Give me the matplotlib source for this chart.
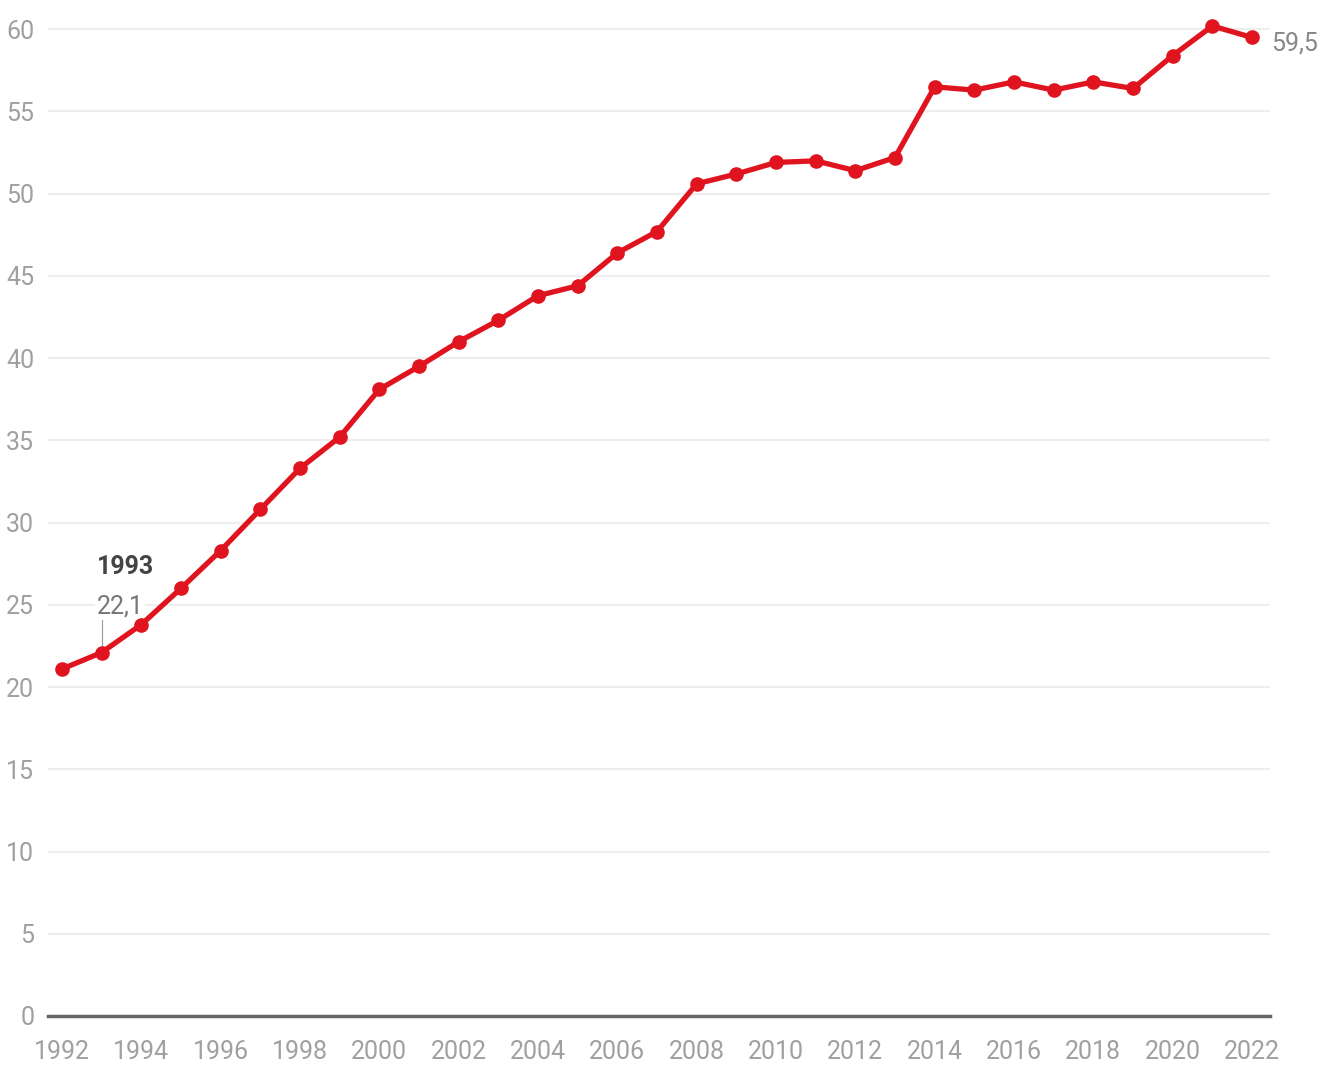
import numpy as np
import matplotlib
matplotlib.use("Agg")
import matplotlib.pyplot as plt

plt.rcParams['font.family'] = ['Liberation Sans Narrow', 'Roboto', 'DejaVu Sans']

# data
years = list(range(1992, 2023))
values = [21.1, 22.1, 23.8, 26.0, 28.3, 30.8, 33.3, 35.2, 38.1, 39.5,
          41.0, 42.3, 43.8, 44.4, 46.4, 47.7, 50.6, 51.2, 51.9, 52.0,
          51.4, 52.2, 56.5, 56.3, 56.8, 56.3, 56.8, 56.4, 58.4, 60.2, 59.5]
yticks = [0, 5, 10, 15, 20, 25, 30, 35, 40, 45, 50, 55, 60]
xticks = list(range(1992, 2023, 2))

red = '#e0141e'
fig = plt.figure(figsize=(13.31, 10.68), dpi=100)
ax = fig.add_axes([0.0361, 0.0487, 0.918, 0.9316])

ax.plot(years, values, color=red, linewidth=3.8, marker='o', markersize=9.5,
        markerfacecolor=red, markeredgecolor=red, zorder=3, clip_on=False)

ax.set_xlim(1991.65, 2022.45)
ax.set_ylim(0, 60.5)
ax.set_yticks(yticks)
ax.set_xticks(xticks)
ax.set_xticklabels([str(x) for x in xticks])
ax.tick_params(axis='y', length=0, pad=10, labelsize=18, labelcolor='#a0a0a0')
ax.tick_params(axis='x', length=0, pad=17, labelsize=18, labelcolor='#a0a0a0')

ax.grid(axis='y', color='#eeeeee', linewidth=1.6)
ax.set_axisbelow(True)
for s in ['top', 'right', 'left']:
    ax.spines[s].set_visible(False)
ax.spines['bottom'].set_color('#666666')
ax.spines['bottom'].set_linewidth(2.5)

# 1993 annotation
i93 = years.index(1993)
ax.plot([1993, 1993], [values[i93], 24.4], color='#999999', linewidth=0.8, zorder=2)
ax.text(1992.88, 24.9, '22,1', fontsize=18, color='#777777', va='center', ha='left',
        bbox=dict(facecolor='white', edgecolor='none', pad=1), zorder=2)
ax.text(1992.88, 27.3, '1993', fontsize=18, color='#444444', fontweight='bold',
        va='center', ha='left')

# end label
ax.annotate('59,5', xy=(years[-1], values[-1]), xytext=(14, -4),
            textcoords='offset points', fontsize=18, color='#888888',
            va='center', ha='left', annotation_clip=False)

fig.savefig('out.png', dpi=100)
